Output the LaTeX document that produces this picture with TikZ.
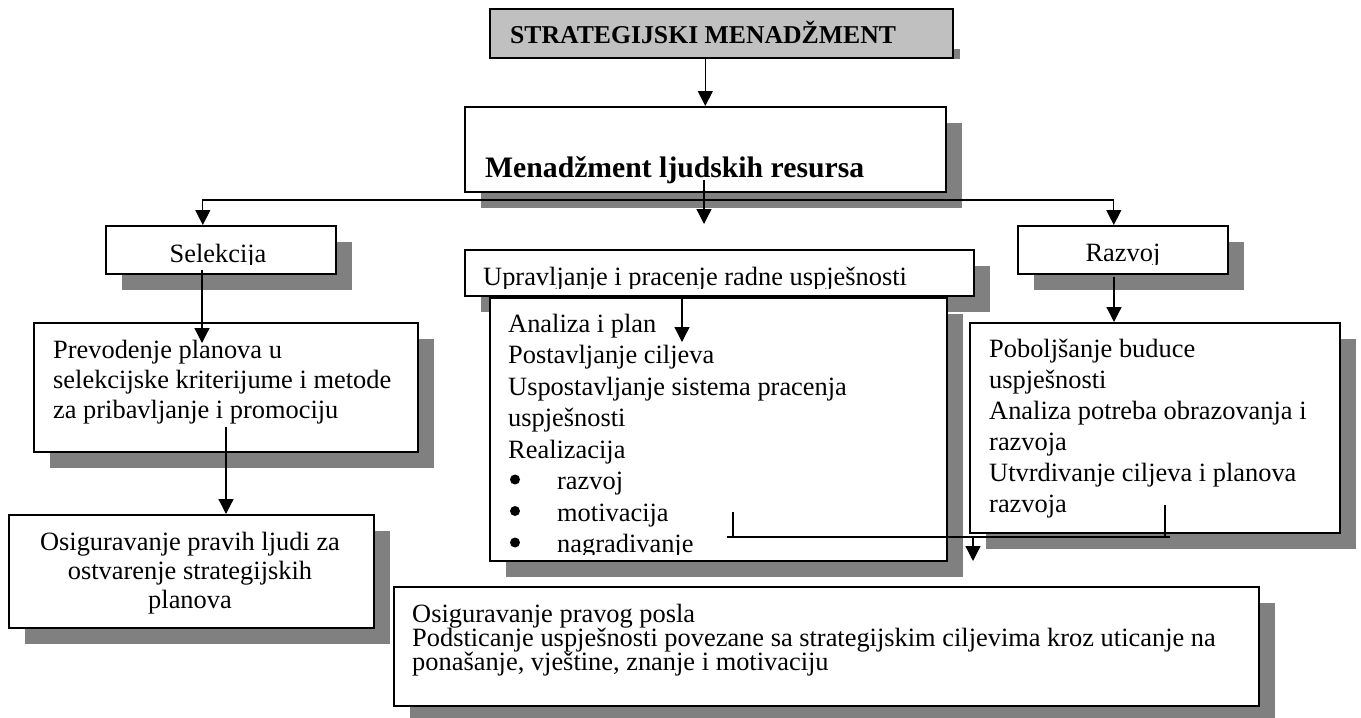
\documentclass[tikz,border=0pt]{standalone}
\usepackage{fontspec}
\setmainfont{Liberation Serif}
\usetikzlibrary{arrows.meta}
\usetikzlibrary{shadows}
\definecolor{titlegray}{HTML}{C0C0C0}
\definecolor{shadowgray}{HTML}{808080}
\tikzset{box/.style={draw, line width=1.6pt, fill=white, inner sep=0pt, anchor=north west,
   drop shadow={shadow xshift=16.5pt, shadow yshift=-16.5pt, fill=shadowgray, opacity=1}},
 titlebox/.style={draw, line width=1.6pt, fill=titlegray, inner sep=0pt, anchor=north west},
 txtline/.style={inner sep=0pt, anchor=base west, font=\fontsize{26.4}{31}\selectfont},
 titletxt/.style={inner sep=0pt, anchor=base west, font=\fontsize{25.7}{30}\selectfont\bfseries},
 headtxt/.style={inner sep=0pt, anchor=base west, font=\fontsize{29.7}{35}\selectfont\bfseries},
 dot/.style={circle, fill, inner sep=0pt, minimum size=10pt},
 link/.style={line width=1.3pt},
 arr/.style={line width=1.3pt, -{Triangle[length=15pt,width=15pt]}},
 }

\begin{document}
\begin{tikzpicture}[x=1pt,y=-1pt]
    \useasboundingbox (0,0) rectangle (1361,718);

    % boxes
    \fill[shadowgray] (952,49) rectangle (960,59);
    \node[titlebox, minimum width=463pt, minimum height=49pt] (strat) at (489,8) {};
    \node[box, minimum width=481pt, minimum height=85pt] (mlr) at (464,106) {};
    \node[box, minimum width=230pt, minimum height=48pt] (sel) at (105,225) {};
    \node[box, minimum width=509pt, minimum height=46pt] (upr) at (464,249) {};
    \node[box, minimum width=210pt, minimum height=48pt] (raz) at (1017,225) {};
    \node[box, minimum width=384pt, minimum height=129pt] (prev) at (33,322) {};
    \node[box, minimum width=457pt, minimum height=263pt] (ana) at (489,297) {};
    \node[box, minimum width=370pt, minimum height=210pt] (pob) at (969,322) {};
    \node[box, minimum width=365pt, minimum height=113pt] (osig) at (8,514) {};
    \node[box, minimum width=865pt, minimum height=119pt] (posao) at (393,586) {};

    % texts
    \node[titletxt] (strat-txt) at (510,43) {STRATEGIJSKI MENADŽMENT};
    \node[headtxt] (mlr-txt) at (485,177) {Menadžment ljudskih resursa};
    \begin{scope}
        \clip (sel.north west) rectangle ([yshift=10pt]sel.south east);
        \node[txtline, anchor=base] (sel-txt) at (218,262) {Selekcija};
    \end{scope}
    \begin{scope}
        \clip (upr.north west) rectangle ([yshift=8pt]upr.south east);
        \node[txtline] (upr-txt) at (483,285) {Upravljanje i pracenje radne uspješnosti};
    \end{scope}
    \begin{scope}
        \clip (raz.north west) rectangle ([yshift=10pt]raz.south east);
        \node[txtline, anchor=base] (raz-txt) at (1123,261) {Razvoj};
    \end{scope}
    \foreach \t [count=\i] in {Prevodenje planova u, selekcijske kriterijume i metode, za pribavljanje i promociju}
        \node[txtline] (prev-\i) at (53,{358+30*(\i-1)}) {\t};
    \begin{scope}
        \clip (ana.north west) rectangle ([yshift=7.5pt]ana.south east);
        \foreach \t [count=\i] in {Analiza i plan, Postavljanje ciljeva, Uspostavljanje sistema pracenja, uspješnosti, Realizacija}
            \node[txtline] (ana-\i) at (508,{332+31.5*(\i-1)}) {\t};
        \foreach \t [count=\i] in {razvoj, motivacija, nagradivanje} {
            \node[dot] (bul-\i) at (515,{479.5+31.5*(\i-1)}) {};
            \node[txtline] (item-\i) at (557,{489.5+31.5*(\i-1)}) {\t};
        }
    \end{scope}
    \foreach \t [count=\i] in {Poboljšanje buduce, uspješnosti, Analiza potreba obrazovanja i, razvoja, Utvrdivanje ciljeva i planova, razvoja}
        \node[txtline] (pob-\i) at (989,{357+31*(\i-1)}) {\t};
    \foreach \t [count=\i] in {Osiguravanje pravih ljudi za, ostvarenje strategijskih, planova}
        \node[txtline, anchor=base] (osig-\i) at (190,{550+29*(\i-1)}) {\t};
    \foreach \t [count=\i] in {Osiguravanje pravog posla, Podsticanje uspješnosti povezane sa strategijskim ciljevima kroz uticanje na, {ponašanje, vještine, znanje i motivaciju}}
        \node[txtline] (posao-\i) at (412,{622+24*(\i-1)}) {\t};

    % connectors
    \coordinate (mlr-stem) at (704,180);
    \coordinate (mid-tip) at (704,224);
    \coordinate (branch) at (704,200);
    \draw[arr] (strat.south -| mlr.north) -- (mlr.north);
    \draw[arr] (mlr-stem) -- (mid-tip);
    \draw[arr] (branch) -| ([xshift=-18pt]sel.north);
    \draw[arr] (branch) -| ([xshift=-9pt]raz.north);
    \coordinate (sel-out) at (202,270);
    \coordinate (prev-in) at (202,343);
    \draw[arr] (sel-out) -- (prev-in);
    \coordinate (prev-out) at (226,427);
    \draw[arr] (prev-out) -- (prev-out |- osig.north);
    \coordinate (ana-in) at (682,342);
    \draw[arr] (upr.south -| ana-in) -- (ana-in);
    \coordinate (raz-out) at (1114,277);
    \draw[arr] (raz-out) -- (raz-out |- pob.north);
    \coordinate (ana-out) at (733,512);
    \coordinate (pob-out) at (1165,505);
    \coordinate (join-l) at (727,537);
    \coordinate (join-r) at (1170,537);
    \coordinate (down-tip) at (973,561);
    \draw[link] (join-l) -- (join-r);
    \draw[link] (ana-out) -- (ana-out |- join-l);
    \draw[link] (pob-out) -- (pob-out |- join-r);
    \draw[arr] (down-tip |- join-l) -- (down-tip);
\end{tikzpicture}
\end{document}
